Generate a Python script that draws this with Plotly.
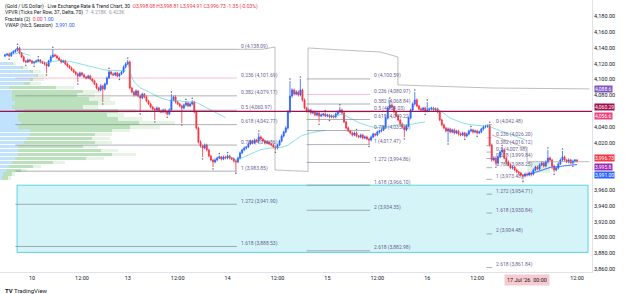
import plotly.graph_objects as go

# ---------------- data ----------------
closes = [
    4131, 4132, 4129.7, 4133.5, 4135, 4137, 4139.8, 4133.5, 4128.4, 4123.3, 4122, 4124.6,
    4123.3, 4120.8, 4122, 4123.3, 4124.6, 4122, 4120.8, 4119.5, 4117, 4123.3, 4128.4, 4131,
    4129.7, 4127, 4124.6, 4122, 4123.3, 4119.5, 4117, 4114.5, 4112, 4109.4, 4106.9, 4104.3,
    4108.2, 4105.6, 4103, 4101.8, 4104.3, 4100.5, 4098, 4094.2, 4089.1, 4086.6, 4091.7, 4087.9,
    4094.2, 4101.8, 4109.4, 4106.9, 4105.6, 4108.2, 4104.3, 4106.9, 4109.4, 4115.7, 4119.5, 4122,
    4089.1, 4084, 4080.3, 4085.3, 4079, 4076.5, 4081.5, 4077.8, 4072.7, 4068.9, 4065.1, 4062.6,
    4061.3, 4063.8, 4060, 4058.8, 4061.3, 4058.8, 4056.2, 4061.3, 4074, 4077.8, 4071.4, 4068.9,
    4066.4, 4063.8, 4067.6, 4070.2, 4066.4, 4068.9, 4071.4, 4058.8, 4038.5, 4020.8, 4015.7, 4013.2,
    4017, 4010.7, 4003.1, 3998, 3995.5, 3998, 4000.5, 4001.8, 3999.3, 4001.8, 4000.5, 4003.1,
    4000.5, 3999.3, 3996.7, 3995.5, 4000.5, 4006.9, 4010.7, 4013.2, 4014.5, 4018.3, 4022, 4019.5,
    4023.3, 4022, 4027.1, 4024.6, 4022, 4019.5, 4020.8, 4018.3, 4017, 4014.5, 4013.2, 4017,
    4022, 4028.4, 4033.4, 4038.5, 4058.8, 4079, 4086.6, 4081.5, 4084, 4080.3, 4086.6, 4074,
    4063.8, 4060, 4061.3, 4057.5, 4058.8, 4055, 4057.5, 4053.7, 4055, 4056.2, 4053.7, 4055,
    4052.4, 4053.7, 4052.4, 4056.2, 4058.8, 4061.3, 4057.5, 4046.1, 4038.5, 4034.7, 4032.2, 4029.6,
    4032.2, 4028.4, 4027.1, 4029.6, 4025.8, 4027.1, 4024.6, 4023.3, 4027.1, 4030.9, 4029.6, 4033.4,
    4034.7, 4036, 4039.8, 4051.2, 4063.8, 4067.6, 4065.1, 4058.8, 4053.7, 4048.6, 4043.6, 4039.8,
    4036, 4041.1, 4051.2, 4061.3, 4068.9, 4074, 4066.4, 4062.6, 4061.3, 4063.8, 4060, 4061.3,
    4062.6, 4063.8, 4061.3, 4062.6, 4058.8, 4048.6, 4042.3, 4038.5, 4034.7, 4037.2, 4033.4, 4036,
    4032.2, 4034.7, 4030.9, 4029.6, 4032.2, 4028.4, 4030.9, 4034.7, 4036, 4033.4, 4034.7, 4032.2,
    4033.4, 4037.2, 4039.8, 4040.5, 4041.1, 4017, 3998, 4000.5, 3994.2, 4001.8, 4008.1, 4010.7,
    4000.5, 3995.5, 3991.7, 3987.9, 3989.1, 3985.3, 3982.8, 3981.5, 3979, 3977.7, 3980.2, 3979,
    3981.5, 3980.2, 3985.3, 3989.1, 3986.6, 3991.7, 3994.2, 3990.4, 3995.5, 4000.5, 3998, 3990.4,
    3985.3, 3987.9, 3993, 3998, 4001.8, 3998, 3995.5, 3998, 3994.2, 3996.7, 3998.08, 3996.73,
]
up_wick = [
    1.2, 1.5, 2.0, 1.3, 1.8, 1.4, 2.2, 1.6, 1.1, 1.9, 1.4, 1.7,
    1.3, 1.6, 1.2, 1.8, 1.5, 1.1, 1.7, 1.4, 1.9, 1.6, 2.1, 7.1,
    1.5, 1.3, 1.8, 1.2, 1.6, 1.4, 1.9, 1.3, 1.7, 1.5, 1.2, 1.8,
    1.6, 1.4, 2.0, 1.3, 1.7, 1.5, 1.2, 1.8, 1.4, 1.6, 2.2, 1.5,
    1.7, 1.9, 2.3, 1.4, 1.6, 1.3, 1.8, 1.5, 1.2, 1.9, 2.0, 2.6,
    1.8, 1.5, 1.7, 2.1, 1.4, 1.9, 1.6, 1.3, 1.8, 1.5, 1.7, 1.4,
    1.6, 1.9, 1.3, 1.7, 1.5, 1.8, 1.2, 2.0, 7.4, 1.6, 1.9, 1.4,
    1.7, 1.5, 1.8, 2.0, 1.4, 1.6, 2.2, 1.5, 1.9, 1.7, 2.1, 1.6,
    1.8, 1.5, 1.4, 1.7, 1.3, 1.9, 1.6, 1.8, 1.4, 1.7, 1.5, 1.9,
    1.6, 1.4, 1.8, 1.5, 1.7, 1.9, 1.6, 1.8, 1.4, 2.0, 1.7, 1.5,
    1.9, 1.6, 5.0, 1.8, 1.4, 1.7, 1.5, 1.8, 1.3, 1.6, 1.9, 1.5,
    1.8, 2.0, 1.7, 2.2, 2.5, 19.0, 2.1, 1.8, 2.4, 1.9, 14.0, 1.7,
    2.0, 1.6, 1.8, 1.5, 1.9, 1.4, 1.7, 1.6, 1.8, 1.5, 1.9, 1.6,
    1.4, 1.8, 1.5, 1.7, 1.9, 4.0, 1.6, 1.8, 1.5, 1.7, 1.4, 1.8,
    1.6, 1.9, 1.5, 1.7, 1.4, 1.8, 1.6, 1.5, 1.9, 1.7, 1.4, 1.8,
    1.6, 1.9, 1.7, 2.1, 1.8, 6.4, 2.0, 1.7, 1.9, 1.5, 1.8, 1.6,
    1.7, 1.9, 2.0, 1.8, 2.2, 10.0, 1.9, 1.6, 1.8, 1.5, 1.7, 10.0,
    1.6, 1.8, 1.5, 1.9, 1.7, 2.0, 1.6, 1.8, 1.5, 1.9, 1.7, 1.6,
    1.8, 1.5, 1.7, 1.9, 1.6, 1.4, 1.8, 1.6, 1.9, 1.5, 1.7, 1.6,
    1.8, 1.5, 1.9, 2.0, 1.38, 2.2, 1.8, 2.4, 1.9, 2.1, 1.7, 3.0,
    1.8, 1.6, 1.9, 1.5, 1.7, 1.4, 1.8, 1.6, 1.5, 1.3, 1.7, 1.9,
    1.6, 1.8, 2.0, 1.7, 1.9, 2.1, 1.8, 1.6, 2.0, 10.2, 1.8, 1.5,
    1.7, 1.9, 2.2, 2.0, 7.6, 1.8, 1.6, 1.9, 1.5, 1.7, 0.7, 0.73,
]
dn_wick = [
    1.4, 1.1, 1.7, 1.3, 1.5, 1.2, 1.6, 1.8, 1.4, 1.9, 1.5, 1.3,
    1.6, 1.4, 1.8, 1.2, 1.5, 1.7, 1.3, 1.9, 9.0, 1.4, 1.6, 1.2,
    1.7, 1.4, 1.5, 1.8, 1.3, 1.6, 1.9, 1.4, 1.7, 1.5, 1.8, 7.6,
    1.4, 1.7, 1.5, 1.9, 1.3, 1.6, 1.8, 1.4, 1.7, 2.0, 1.5, 16.5,
    1.8, 1.4, 1.6, 1.9, 1.3, 1.7, 1.5, 1.8, 1.4, 1.6, 1.9, 1.5,
    1.7, 1.9, 2.0, 1.6, 1.8, 17.7, 1.5, 1.9, 1.7, 1.4, 1.8, 1.6,
    12.7, 1.5, 1.8, 1.6, 1.4, 1.9, 1.7, 1.5, 1.8, 1.6, 1.9, 1.4,
    1.7, 19.0, 1.5, 1.8, 1.6, 1.4, 1.9, 1.7, 2.1, 1.8, 2.0, 11.4,
    1.6, 1.9, 1.7, 1.5, 6.4, 1.8, 1.6, 1.4, 1.9, 1.5, 1.7, 1.6,
    1.8, 1.5, 1.9, 11.65, 1.6, 1.8, 1.5, 1.7, 1.9, 1.4, 1.6, 1.8,
    1.5, 1.7, 1.9, 1.6, 1.4, 1.8, 1.5, 1.7, 1.9, 1.6, 3.0, 1.8,
    1.5, 1.7, 1.9, 1.6, 2.0, 1.8, 2.2, 1.9, 1.7, 2.0, 1.8, 2.1,
    1.7, 1.9, 1.6, 1.8, 1.5, 1.7, 1.9, 8.0, 1.6, 1.8, 1.5, 1.7,
    1.9, 1.6, 1.8, 1.5, 1.7, 1.4, 1.9, 1.6, 1.8, 1.5, 1.7, 1.9,
    1.6, 1.8, 1.5, 1.7, 1.9, 1.6, 1.4, 5.8, 1.7, 1.5, 1.8, 1.6,
    1.9, 1.7, 1.5, 1.8, 2.0, 1.6, 1.9, 1.7, 1.5, 1.8, 1.6, 1.9,
    9.0, 1.7, 1.5, 1.8, 1.6, 1.9, 1.7, 1.5, 1.8, 1.6, 1.9, 1.7,
    1.5, 1.8, 1.6, 1.9, 1.7, 1.5, 1.8, 1.6, 1.9, 14.0, 1.7, 1.5,
    1.8, 1.6, 1.9, 1.7, 1.5, 1.8, 1.6, 1.9, 1.7, 2.0, 1.6, 1.8,
    1.5, 1.7, 1.9, 1.6, 1.8, 2.0, 2.2, 1.9, 3.0, 1.8, 1.6, 1.9,
    1.7, 3.0, 1.8, 1.6, 1.9, 1.7, 1.5, 1.8, 1.6, 4.3, 1.7, 1.9,
    1.6, 3.0, 1.8, 1.5, 1.7, 1.9, 1.6, 1.8, 1.5, 1.7, 1.9, 4.0,
    3.0, 1.6, 1.8, 1.5, 1.7, 1.9, 1.6, 1.8, 1.5, 1.7, 1.9, 1.82,
]
first_open = 4129.5

tick_idx = [13, 37, 59, 83, 107, 131, 155, 179, 203, 227, 251, 275]
tick_txt = ["10", "12:00", "13", "12:00", "14", "12:00", "15", "12:00", "16", "12:00", "", "12:00"]
crosshair_idx = 251
crosshair_txt = "17 Jul '26  00:00"
session_starts = [0, 13, 59, 107, 155, 203, 251]
price_ticks = [3860, 3880, 3900, 3920, 3940, 3960, 4020, 4040, 4080, 4100, 4120, 4140, 4160, 4180]

# Fibonacci drawings: (high, low, x_from, x_to, levels)
fib_sets = [
    (4138.09, 3983.85, 5, 111.5, [0, 0.236, 0.382, 0.5, 0.618, 0.786, 1, 1.272, 1.618]),
    (4100.59, 4017.47, 145, 175.5, [0, 0.236, 0.382, 0.5, 0.618, 0.786, 1, 1.272, 1.618, 2, 2.618]),
    (4042.48, 3973.48, 231.5, 234.2, [0, 0.236, 0.382, 0.5, 0.618, 0.786, 1, 1.272, 1.618, 2, 2.618]),
]
hline_price = 4059.5
zone = (5.8, 280.3, 3881.0, 3966.1)   # x0, x1, y0, y1
small_zone = (251.2, 262.0, 3982.0, 3996.0)

# gray step lines (bar index, price)
upper_step_x = [111.5, 123.6, 129.8, 129.8, 145.7, 145.7, 161.0, 180.3, 188.9, 188.9, 234.1, 281.0]
upper_step_y = [4138.1, 4138.1, 4141.0, 3985.3, 3983.5, 4139.8, 4137.3, 4134.7, 4128.4, 4093.0, 4089.1, 4088.0]
lower_step_x = [234.1, 249.0, 251.0, 251.0, 281.0]
lower_step_y = [4029.6, 4014.5, 4014.5, 3995.8, 3995.8]

# Visible-range volume profile rows
vp_price = [3975, 3980, 3985, 3990, 3995, 4000, 4005, 4010, 4015, 4020, 4025, 4030, 4035, 4040, 4045,
            4050, 4055, 4060, 4065, 4070, 4075, 4080, 4085, 4090, 4095, 4100, 4105, 4110, 4115, 4120]
vp_blue = [0.3, 0.5, 1, 1.5, 2, 2.5, 3, 3, 3, 4, 4.5, 5, 5, 3, 3.5,
           3, 3, 4, 2, 2.5, 2, 2, 2, 1.5, 4, 5, 6, 5, 3.5, 2]
vp_green = [1, 1.5, 2.5, 4, 7, 12, 16, 14, 11, 12, 11, 11, 14, 19, 20,
            17, 15, 16, 12, 14, 13, 11, 12, 8, 1, 0.5, 0.5, 0.5, 0.3, 0.2]
vp_light = [0.5, 0.5, 1, 1.5, 2, 3, 4, 3, 2.5, 3, 3, 3, 3, 5, 6,
            4, 3, 3, 2.5, 3, 3.5, 3, 3, 3, 2, 2, 1.5, 1.5, 1, 0.5]

legend_title = "(Gold / US Dollar) · Live Exchange Rate & Trend Chart, 30"
vwap_last = 3991.00

# ---------------- derived ----------------
n = len(closes)
idx = list(range(n))
opens = [first_open] + closes[:-1]
highs = [max(o, c) + u for o, c, u in zip(opens, closes, up_wick)]
lows = [min(o, c) - d for o, c, d in zip(opens, closes, dn_wick)]

BLUE = "#2962ff"
RED = "#f23645"
FONT = "Roboto"

fig = go.Figure()

# volume profile (left)
fig.add_trace(go.Bar(y=vp_price, x=vp_blue, orientation="h", xaxis="x2", yaxis="y",
                     marker=dict(color="rgba(33,150,243,0.28)", line_width=0), width=4.4,
                     hoverinfo="skip", showlegend=False))
fig.add_trace(go.Bar(y=vp_price, x=vp_green, orientation="h", xaxis="x2", yaxis="y",
                     marker=dict(color="rgba(76,175,80,0.38)", line_width=0), width=4.4,
                     hoverinfo="skip", showlegend=False))
fig.add_trace(go.Bar(y=vp_price, x=vp_light, orientation="h", xaxis="x2", yaxis="y",
                     marker=dict(color="rgba(76,175,80,0.14)", line_width=0), width=4.4,
                     hoverinfo="skip", showlegend=False))

shapes = []
annotations = []

# target zone
shapes.append(dict(type="rect", xref="x", yref="y", x0=zone[0], x1=zone[1], y0=zone[2], y1=zone[3],
                   fillcolor="rgba(0,188,212,0.17)", line=dict(color="rgba(0,188,212,0.6)", width=1),
                   layer="below"))
shapes.append(dict(type="rect", xref="x", yref="y", x0=small_zone[0], x1=small_zone[1],
                   y0=small_zone[2], y1=small_zone[3], fillcolor="rgba(76,175,80,0.18)",
                   line=dict(width=0), layer="below"))

# fibonacci drawings
for hi, lo, xa, xb, levels in fib_sets:
    rng = hi - lo
    for l in levels:
        v = hi - l * rng
        col = "rgba(120,123,134,0.75)"
        if l == 0.236:
            col = "rgba(233,30,99,0.35)"
        shapes.append(dict(type="line", xref="x", yref="y", x0=xa, x1=xb, y0=v, y1=v,
                           line=dict(color=col, width=0.8)))
        annotations.append(dict(x=xb, y=v, xref="x", yref="y", text="%g (%s)" % (l, f"{v:,.2f}"),
                                showarrow=False, xanchor="left", yanchor="middle", xshift=2, yshift=3,
                                font=dict(family=FONT, size=5, color="#6a5f93")))

# horizontal line across
shapes.append(dict(type="line", xref="paper", yref="y", x0=0, x1=1, y0=hline_price, y1=hline_price,
                   line=dict(color="#a0114c", width=1.4)))

# gray step lines
for sx, sy in ((upper_step_x, upper_step_y), (lower_step_x, lower_step_y)):
    fig.add_trace(go.Scatter(x=sx, y=sy, mode="lines", line=dict(color="rgba(149,152,161,0.8)", width=0.8),
                             hoverinfo="skip", showlegend=False))

# session VWAP (equal weights)
bounds = session_starts + [n]
for k in range(len(session_starts)):
    a, b = bounds[k], bounds[k + 1]
    xs, vs = [], []
    s = 0.0
    for j in range(a, b):
        s += (highs[j] + lows[j] + closes[j]) / 3
        xs.append(j)
        vs.append(s / (j - a + 1))
    last = (k == len(session_starts) - 1)
    fig.add_trace(go.Scatter(x=xs, y=vs, mode="lines",
                             line=dict(color=BLUE if last else "rgba(38,198,218,0.6)", width=0.9),
                             hoverinfo="skip", showlegend=False))

# candles
fig.add_trace(go.Candlestick(x=idx, open=opens, high=highs, low=lows, close=closes,
                             increasing=dict(line=dict(color=BLUE, width=0.8), fillcolor=BLUE),
                             decreasing=dict(line=dict(color=RED, width=0.8), fillcolor=RED),
                             whiskerwidth=0, hoverinfo="skip", showlegend=False))

# fractals (period 2)
fx_u, fy_u, fx_d, fy_d = [], [], [], []
for i in range(2, n - 2):
    if all(highs[i] > highs[j] for j in (i - 2, i - 1, i + 1, i + 2)):
        fx_u.append(i); fy_u.append(highs[i] + 2.5)
    if all(lows[i] < lows[j] for j in (i - 2, i - 1, i + 1, i + 2)):
        fx_d.append(i); fy_d.append(lows[i] - 2.5)
fig.add_trace(go.Scatter(x=fx_u, y=fy_u, mode="markers", marker=dict(symbol="circle", size=1.6, color="#6a6d78"),
                         hoverinfo="skip", showlegend=False))
fig.add_trace(go.Scatter(x=fx_d, y=fy_d, mode="markers", marker=dict(symbol="circle", size=1.6, color="#6a6d78"),
                         hoverinfo="skip", showlegend=False))

# price-axis tags
last_c = closes[-1]
tags = [
    ("4,088.6", upper_step_y[-1], "#7e57c2", 0),
    ("4,060.29", hline_price, "#a0114c", 4),
    ("4,056.6", 4056.6, "#ec407a", -2),
    (f"{last_c:,.2f}", last_c, RED, 3),
    ("3,995.8", lower_step_y[-1], "#9c27b0", -5),
    (f"{vwap_last:,.2f}", vwap_last, BLUE, -9),
]
for t, v, c, sh in tags:
    annotations.append(dict(x=1, y=v, xref="paper", yref="y", text=t, showarrow=False, xanchor="left",
                            yanchor="middle", xshift=2, yshift=sh, bgcolor=c, borderpad=0,
                            font=dict(family=FONT, size=5, color="white")))

# crosshair date label
annotations.append(dict(x=crosshair_idx, y=0, xref="x", yref="paper", text=crosshair_txt, showarrow=False,
                        yanchor="top", yshift=-2, bgcolor="#f7c9d0", borderpad=2,
                        font=dict(family=FONT, size=5.5, color="#131722")))

# legend lines (top-left)
o_, h_, l_, c_ = opens[-1], highs[-1], lows[-1], closes[-1]
chg = c_ - closes[-2]
legend_lines = [
    f"<span style='color:#131722'>{legend_title}</span>  "
    f"<span style='color:{RED}'>O{o_:,.2f} H{h_:,.2f} L{l_:,.2f} C{c_:,.2f} {chg:+.2f} ({chg / closes[-2] * 100:+.2f}%)</span>",
    "<span style='color:#131722'>VPVR (Ticks Per Row, 37, Delta, 70)</span>  <span style='color:#9598a1'>7  4.218K  6.423K</span>",
    f"<span style='color:#131722'>Fractals (2)</span>  <span style='color:{RED}'>0.00</span> <span style='color:{BLUE}'>1.00</span>",
    f"<span style='color:#131722'>VWAP (hlc3, Session)</span>  <span style='color:{BLUE}'>{vwap_last:,.2f}</span>",
]
for k, t in enumerate(legend_lines):
    annotations.append(dict(x=0, y=1, xref="paper", yref="paper", text=t, showarrow=False, xanchor="left",
                            yanchor="top", xshift=3, yshift=-1 - 6.3 * k, font=dict(family=FONT, size=5)))

annotations.append(dict(x=0, y=0, xref="paper", yref="paper", text="<b>TV</b> TradingView", showarrow=False,
                        xanchor="left", yanchor="top", xshift=3, yshift=-13,
                        font=dict(family=FONT, size=6, color="#131722")))

fig.update_layout(
    width=625, height=294,
    margin=dict(l=0, r=33, t=0, b=22),
    paper_bgcolor="white", plot_bgcolor="white",
    barmode="stack", bargap=0,
    showlegend=False,
    font=dict(family=FONT, size=6, color="#131722"),
    xaxis=dict(range=[-2.4, 282.2], tickvals=tick_idx, ticktext=tick_txt, showgrid=False, zeroline=False,
               rangeslider=dict(visible=False), ticks="", showline=True, linecolor="#e0e3eb",
               tickfont=dict(family=FONT, size=5.5, color="#131722"), fixedrange=True),
    xaxis2=dict(overlaying="x", range=[0, 100], visible=False, anchor="y"),
    yaxis=dict(range=[3856.2, 4200.5], side="right", tickvals=price_ticks, tickformat=",.2f",
               showgrid=False, zeroline=False, ticks="", showline=True, linecolor="#e0e3eb",
               tickfont=dict(family=FONT, size=5.5, color="#131722")),
    shapes=shapes, annotations=annotations,
)

fig.write_html("out.html")
